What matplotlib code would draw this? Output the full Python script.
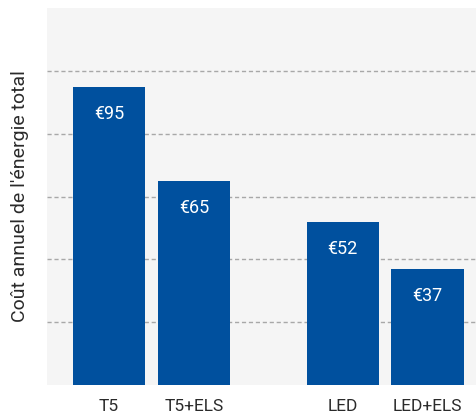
import matplotlib
matplotlib.use('Agg')
import matplotlib.pyplot as plt

categories = ['T5', 'T5+ELS', 'LED', 'LED+ELS']
costs = [95, 65, 52, 37]
value_labels = ['€95', '€65', '€52', '€37']
positions = [0, 1, 2.75, 3.75]

plt.rcParams['font.family'] = ['Roboto', 'DejaVu Sans']

fig = plt.figure(figsize=(4.76, 4.18), dpi=100)
ax = fig.add_axes([47 / 476, 33 / 418, 429 / 476, 377 / 418])
ax.set_facecolor('#f5f5f5')

bars = ax.bar(positions, costs, width=0.85, color='#00509e', zorder=3)

# Value labels inside the top of each bar
for b, lab in zip(bars, value_labels):
    ax.text(b.get_x() + b.get_width() / 2, b.get_height() - 8.6, lab,
            ha='center', va='center', color='white', fontsize=13, zorder=4)

ax.set_ylim(0, 120)
ax.set_xlim(-0.73, 4.32)
ax.set_yticks([20, 40, 60, 80, 100])
ax.yaxis.grid(True, linestyle=(0, (3, 2)), color='#a8a8a8', linewidth=1, zorder=1)
ax.tick_params(axis='y', length=0, labelleft=False)
ax.tick_params(axis='x', length=0, pad=10, labelsize=12.5, colors='#2a2a2a')
ax.set_xticks(positions)
ax.set_xticklabels(categories)

for s in ax.spines.values():
    s.set_visible(False)

ax.set_ylabel("Coût annuel de l'énergie total", fontsize=14, color='#2a2a2a',
              labelpad=13)

fig.savefig('out.png', dpi=100)
